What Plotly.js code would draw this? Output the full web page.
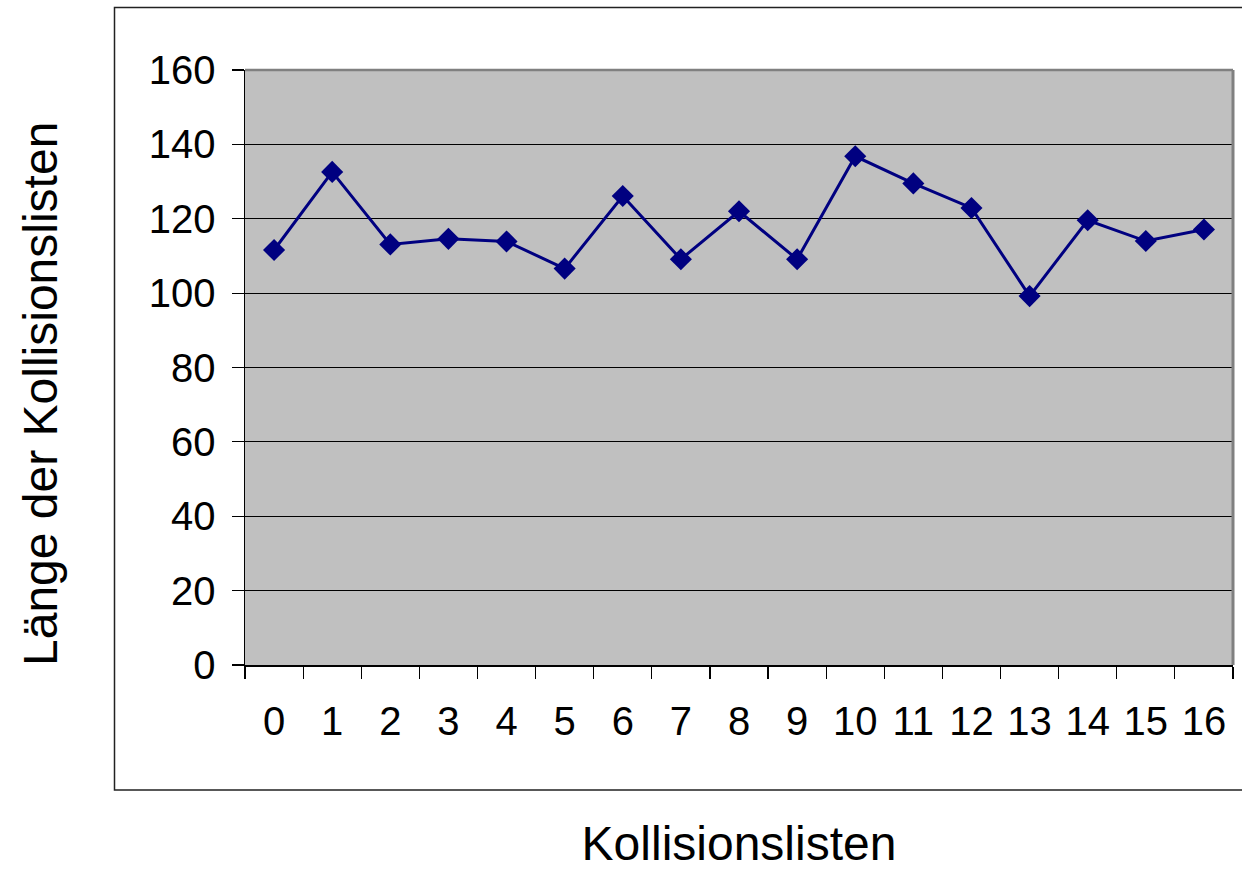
<!DOCTYPE html>
<html>
<head>
<meta charset="utf-8">
<script src="https://cdn.plot.ly/plotly-3.0.1.min.js"></script>
<style>
  html, body { margin: 0; padding: 0; background: #ffffff; }
  #chart { width: 1242px; height: 870px; }
</style>
</head>
<body>
<div id="chart"></div>
<script>
// ---- data ----
const categories = ["0","1","2","3","4","5","6","7","8","9","10","11","12","13","14","15","16"];
const lengths = [111.6, 132.6, 113.1, 114.6, 113.9, 106.6, 126.1, 109.1, 122.0, 109.1, 136.8, 129.5, 122.9, 99.2, 119.6, 114.0, 117.1];
const yTickValues = [0, 20, 40, 60, 80, 100, 120, 140, 160];
const xTitle = "Kollisionslisten";
const yTitle = "Länge der Kollisionslisten";

// ---- layout geometry (pixels) ----
const W = 1242, H = 870;
const M = { l: 245, r: 9, t: 70, b: 205 };
const pw = W - M.l - M.r, ph = H - M.t - M.b;
const px = x => (x - M.l) / pw;
const py = y => (H - M.b - y) / ph;

const font = 'Liberation Sans, Arial, Helvetica, sans-serif';

const trace = {
  x: categories,
  y: lengths,
  type: 'scatter',
  mode: 'lines+markers',
  line: { color: '#000080', width: 3 },
  marker: { symbol: 'diamond', size: 17, color: '#000080' },
  hoverinfo: 'x+y'
};

const layout = {
  width: W, height: H,
  margin: M,
  paper_bgcolor: '#ffffff',
  plot_bgcolor: '#c0c0c0',
  showlegend: false,
  font: { family: font, color: '#000000', size: 40 },
  xaxis: {
    type: 'category',
    categoryorder: 'array',
    categoryarray: categories,
    range: [-0.5, categories.length - 0.5],
    tickson: 'boundaries',
    ticks: 'outside', ticklen: 12, tickwidth: 1.2, tickcolor: '#000000',
    showline: true, linecolor: '#000000', linewidth: 1.5,
    showgrid: false, zeroline: false,
    tickfont: { family: font, size: 40, color: '#000000' },
    ticklabelstandoff: 20,
    title: { text: xTitle, font: { family: font, size: 48, color: '#000000' }, standoff: 88 }
  },
  yaxis: {
    range: [0, 160],
    tickmode: 'array',
    tickvals: yTickValues,
    ticktext: yTickValues.map(String),
    ticks: 'outside', ticklen: 12, tickwidth: 1.2, tickcolor: '#000000',
    showline: true, linecolor: '#000000', linewidth: 1.5,
    showgrid: true, gridcolor: '#000000', gridwidth: 1,
    zeroline: false,
    tickfont: { family: font, size: 40, color: '#000000' },
    ticklabelstandoff: 8
  },
  annotations: [
    { text: yTitle, textangle: -90, showarrow: false,
      xref: 'paper', yref: 'paper', x: px(40), y: py(394),
      xanchor: 'center', yanchor: 'middle',
      font: { family: font, size: 48, color: '#000000' } }
  ],
  shapes: [
    // outer chart border
    { type: 'rect', xref: 'paper', yref: 'paper',
      x0: px(114.5), x1: px(1260), y0: py(790), y1: py(7.5),
      line: { color: '#222222', width: 1.5 }, fillcolor: 'rgba(0,0,0,0)', layer: 'below' },
    // plot area top and right border (grey)
    { type: 'line', xref: 'paper', yref: 'paper', x0: 0, x1: 1, y0: 1, y1: 1,
      line: { color: '#808080', width: 2.5 }, layer: 'above' },
    { type: 'line', xref: 'paper', yref: 'paper', x0: 1, x1: 1, y0: 0, y1: 1,
      line: { color: '#808080', width: 3 }, layer: 'above' }
  ]
};

Plotly.newPlot('chart', [trace], layout, { displayModeBar: false, staticPlot: true });
</script>
</body>
</html>
